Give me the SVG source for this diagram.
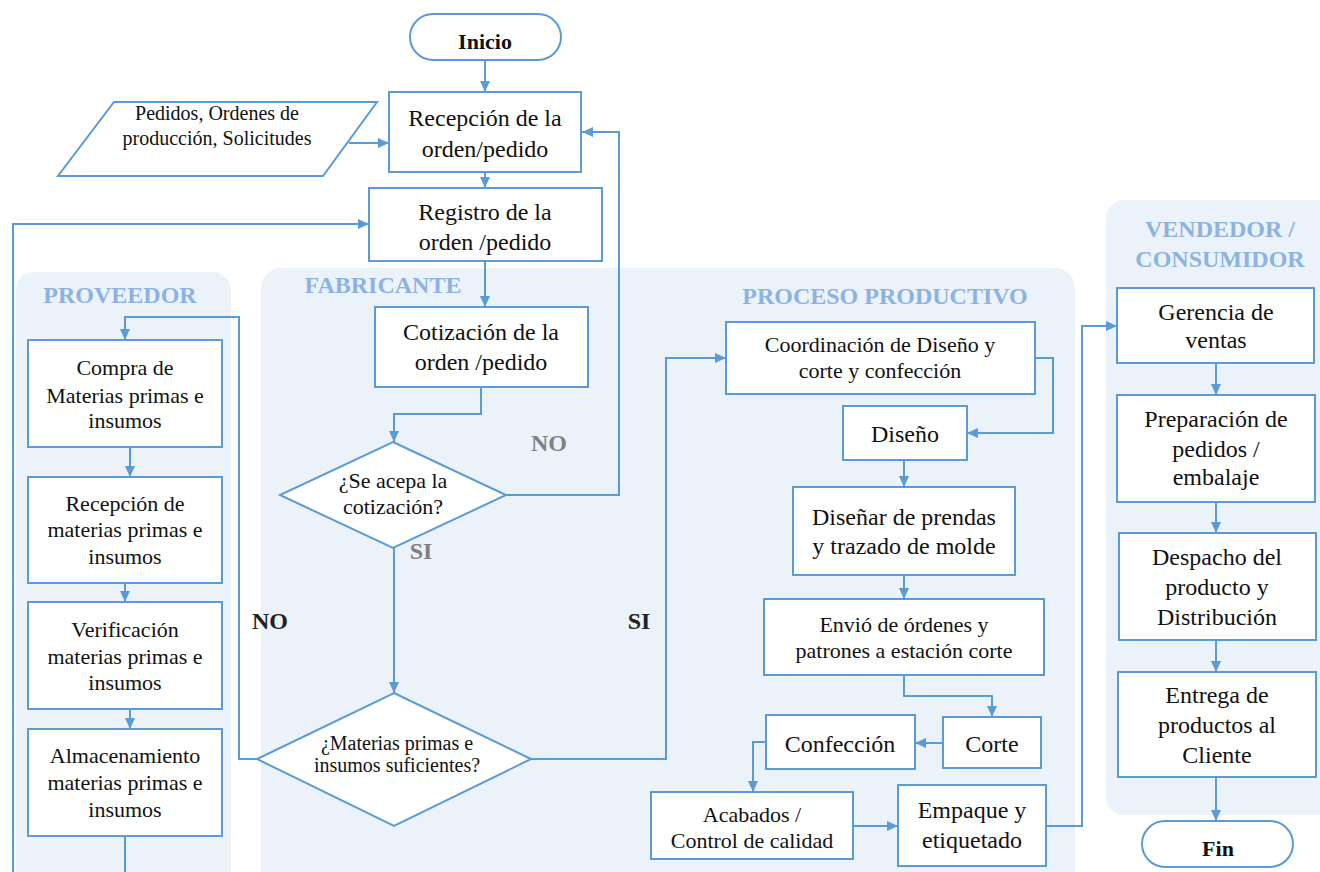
<svg xmlns="http://www.w3.org/2000/svg" width="1320" height="872" viewBox="0 0 1320 872">
<defs>
<marker id="ah" markerWidth="12" markerHeight="12" refX="11" refY="6" orient="auto" markerUnits="userSpaceOnUse">
<path d="M0,1 L11,6 L0,11 Z" fill="#5b9bd5"/>
</marker>
<style>
.lane{fill:#ebf2f9;stroke:none}
.lt{font-family:"Liberation Serif","Times New Roman",serif;font-weight:bold;font-size:24px;fill:#8db3e2;text-anchor:middle}
.bx{fill:#fff;stroke:#5b9bd5;stroke-width:2}
.t{font-family:"Liberation Serif","Times New Roman",serif;font-size:23px;fill:#111;text-anchor:middle}
.s{font-size:22px}
.b{font-weight:bold}
.c{fill:none;stroke:#5b9bd5;stroke-width:2}
.ca{fill:none;stroke:#5b9bd5;stroke-width:2;marker-end:url(#ah)}
.lg{font-family:"Liberation Serif","Times New Roman",serif;font-weight:bold;font-size:24px;fill:#808080;text-anchor:middle}
.lk{font-family:"Liberation Serif","Times New Roman",serif;font-weight:bold;font-size:24px;fill:#222;text-anchor:middle}
</style>
</defs>
<rect width="1320" height="872" fill="#fff"/>
<g id="lanes">
<rect class="lane" x="16" y="272" width="215" height="640" rx="18"/>
<rect class="lane" x="261" y="268" width="814" height="640" rx="20"/>
<rect class="lane" x="1106" y="200" width="240" height="615" rx="18"/>
<text class="lt" x="120" y="303">PROVEEDOR</text>
<text class="lt" x="383" y="293">FABRICANTE</text>
<text class="lt" x="885" y="304">PROCESO PRODUCTIVO</text>
<text class="lt" x="1220" y="237">VENDEDOR /</text>
<text class="lt" x="1220" y="267">CONSUMIDOR</text>
</g>
<g id="connectors">
<path class="ca" d="M485,60 V92"/>
<path class="ca" d="M349,143 H389"/>
<path class="ca" d="M485,172 V188"/>
<path class="c" d="M125,836 V872"/>
<path class="ca" d="M13,872 V224 H369"/>
<path class="ca" d="M485,261 V307"/>
<path class="ca" d="M481,387 V414 H394 V442"/>
<path class="ca" d="M506,495 H619 V132 H582"/>
<path class="ca" d="M394,548 V693"/>
<path class="ca" d="M257,759 H239 V317 H125 V340"/>
<path class="ca" d="M130,447 V477"/>
<path class="ca" d="M125,583 V602"/>
<path class="ca" d="M130,709 V729"/>
<path class="ca" d="M531,759 H666 V358 H726"/>
<path class="ca" d="M1035,358 H1053 V433 H967"/>
<path class="ca" d="M904,460 V487"/>
<path class="ca" d="M904,575 V599"/>
<path class="ca" d="M904,675 V696 H992 V717"/>
<path class="ca" d="M943,743 H915"/>
<path class="ca" d="M766,742 H753 V792"/>
<path class="ca" d="M853,826 H898"/>
<path class="ca" d="M1046,826 H1082 V326 H1117"/>
<path class="ca" d="M1216,363 V395"/>
<path class="ca" d="M1216,502 V533"/>
<path class="ca" d="M1216,640 V672"/>
<path class="ca" d="M1216,777 V821"/>
<text class="lg" x="549" y="451">NO</text>
<text class="lg" x="421" y="559">SI</text>
<text class="lk" x="270" y="629">NO</text>
<text class="lk" x="639" y="629">SI</text>
</g>
<g id="inicio">
<rect class="bx" x="410" y="14" width="151" height="46" rx="23"/>
<text class="t b" x="485" y="49" style="font-size:22px">Inicio</text>
</g>
<g id="pedidos">
<polygon class="bx" points="114,102 377,102 323,176 58,176"/>
<text class="t" x="217" y="120" style="font-size:20px">Pedidos, Ordenes de</text>
<text class="t" x="217" y="145" style="font-size:20px">producción, Solicitudes</text>
</g>
<g id="recepcion">
<rect class="bx" x="389" y="92" width="192" height="80"/>
<text class="t" x="485" y="126" style="font-size:24px">Recepción de la</text>
<text class="t" x="485" y="157" style="font-size:24px">orden/pedido</text>
</g>
<g id="registro">
<rect class="bx" x="369" y="188" width="233" height="73"/>
<text class="t" x="485" y="220" style="font-size:24px">Registro de la</text>
<text class="t" x="485" y="250" style="font-size:24px">orden /pedido</text>
</g>
<g id="cotizacion">
<rect class="bx" x="375" y="307" width="213" height="80"/>
<text class="t" x="481" y="340" style="font-size:24px">Cotización de la</text>
<text class="t" x="481" y="370" style="font-size:24px">orden /pedido</text>
</g>
<g id="acepta">
<polygon class="bx" points="393,442 506,495 393,548 280,495"/>
<text class="t s" x="393" y="488">¿Se acepa la</text>
<text class="t s" x="393" y="514">cotización?</text>
</g>
<g id="suficientes">
<polygon class="bx" points="394,693 531,759 394,826 257,759"/>
<text class="t" x="397" y="750" style="font-size:20px">¿Materias primas e</text>
<text class="t" x="397" y="772" style="font-size:20px">insumos suficientes?</text>
</g>
<g id="compra">
<rect class="bx" x="28" y="340" width="194" height="107"/>
<text class="t s" x="125" y="375">Compra de</text>
<text class="t s" x="125" y="403">Materias primas e</text>
<text class="t s" x="125" y="428">insumos</text>
</g>
<g id="recepcion-mp">
<rect class="bx" x="28" y="477" width="194" height="106"/>
<text class="t s" x="125" y="511">Recepción de</text>
<text class="t s" x="125" y="537">materias primas e</text>
<text class="t s" x="125" y="564">insumos</text>
</g>
<g id="verificacion">
<rect class="bx" x="28" y="602" width="194" height="107"/>
<text class="t s" x="125" y="637">Verificación</text>
<text class="t s" x="125" y="664">materias primas e</text>
<text class="t s" x="125" y="690">insumos</text>
</g>
<g id="almacenamiento">
<rect class="bx" x="28" y="729" width="194" height="107"/>
<text class="t s" x="125" y="763">Almacenamiento</text>
<text class="t s" x="125" y="790">materias primas e</text>
<text class="t s" x="125" y="817">insumos</text>
</g>
<g id="coordinacion">
<rect class="bx" x="726" y="322" width="309" height="72"/>
<text class="t s" x="880" y="352">Coordinación de Diseño y</text>
<text class="t s" x="880" y="378">corte y confección</text>
</g>
<g id="diseno">
<rect class="bx" x="843" y="406" width="124" height="54"/>
<text class="t" x="905" y="442" style="font-size:24px">Diseño</text>
</g>
<g id="disenar">
<rect class="bx" x="793" y="487" width="222" height="88"/>
<text class="t" x="904" y="525" style="font-size:24px">Diseñar de prendas</text>
<text class="t" x="904" y="554" style="font-size:24px">y trazado de molde</text>
</g>
<g id="envio">
<rect class="bx" x="764" y="599" width="280" height="76"/>
<text class="t s" x="904" y="632">Envió de órdenes y</text>
<text class="t s" x="904" y="658">patrones a estación corte</text>
</g>
<g id="corte">
<rect class="bx" x="943" y="717" width="98" height="51"/>
<text class="t" x="992" y="752" style="font-size:24px">Corte</text>
</g>
<g id="confeccion">
<rect class="bx" x="766" y="715" width="149" height="54"/>
<text class="t" x="840" y="752" style="font-size:24px">Confección</text>
</g>
<g id="acabados">
<rect class="bx" x="651" y="792" width="202" height="67"/>
<text class="t s" x="752" y="822">Acabados /</text>
<text class="t s" x="752" y="848">Control de calidad</text>
</g>
<g id="empaque">
<rect class="bx" x="898" y="785" width="148" height="81"/>
<text class="t" x="972" y="818" style="font-size:24px">Empaque y</text>
<text class="t" x="972" y="848" style="font-size:24px">etiquetado</text>
</g>
<g id="gerencia">
<rect class="bx" x="1117" y="288" width="197" height="75"/>
<text class="t" x="1216" y="320" style="font-size:24px">Gerencia de</text>
<text class="t" x="1216" y="348" style="font-size:24px">ventas</text>
</g>
<g id="preparacion">
<rect class="bx" x="1117" y="395" width="198" height="107"/>
<text class="t" x="1216" y="427" style="font-size:24px">Preparación de</text>
<text class="t" x="1216" y="457" style="font-size:24px">pedidos /</text>
<text class="t" x="1216" y="485" style="font-size:24px">embalaje</text>
</g>
<g id="despacho">
<rect class="bx" x="1119" y="533" width="197" height="107"/>
<text class="t" x="1217" y="565" style="font-size:24px">Despacho del</text>
<text class="t" x="1217" y="595" style="font-size:24px">producto y</text>
<text class="t" x="1217" y="625" style="font-size:24px">Distribución</text>
</g>
<g id="entrega">
<rect class="bx" x="1118" y="672" width="198" height="105"/>
<text class="t" x="1217" y="703" style="font-size:24px">Entrega de</text>
<text class="t" x="1217" y="733" style="font-size:24px">productos al</text>
<text class="t" x="1217" y="763" style="font-size:24px">Cliente</text>
</g>
<g id="fin">
<rect class="bx" x="1142" y="821" width="151" height="46" rx="23"/>
<text class="t b" x="1218" y="856" style="font-size:22px">Fin</text>
</g>
</svg>
